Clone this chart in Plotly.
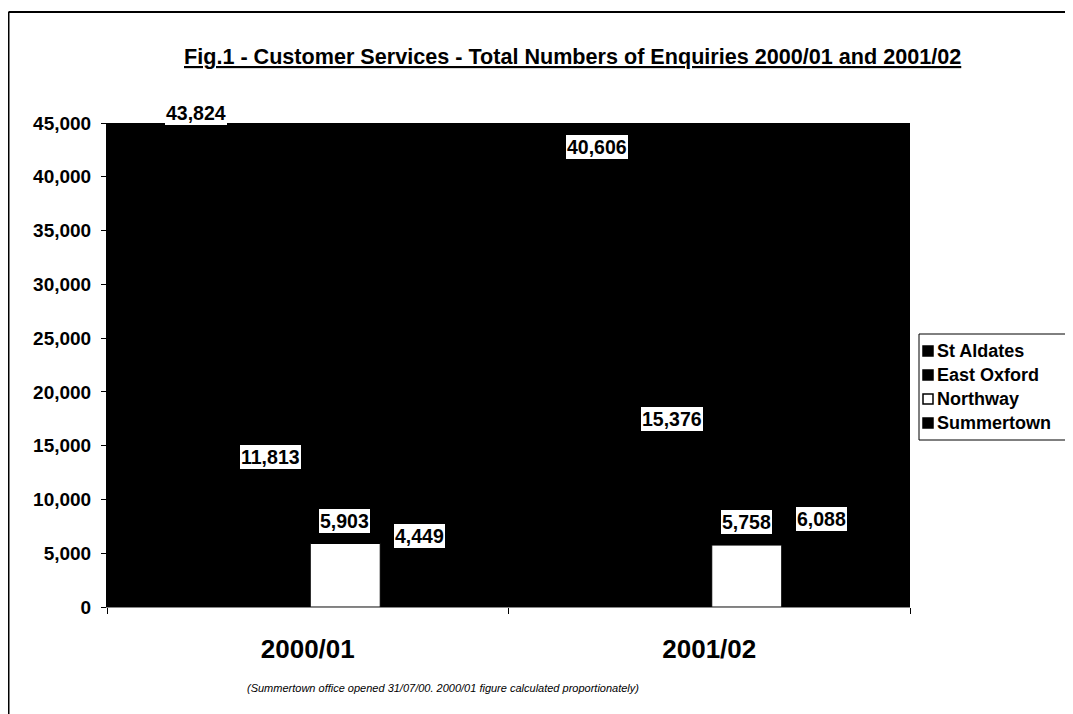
import plotly.graph_objects as go

years = ["2000/01", "2001/02"]
offices = ["St Aldates", "East Oxford", "Northway", "Summertown"]
st_aldates = [43824, 40606]
east_oxford = [11813, 15376]
northway = [5903, 5758]
summertown = [4449, 6088]
series = [st_aldates, east_oxford, northway, summertown]
bar_colors = ["#000000", "#000000", "#ffffff", "#000000"]
y_ticks = [0, 5000, 10000, 15000, 20000, 25000, 30000, 35000, 40000, 45000]

FONT = "Liberation Sans, Arial, sans-serif"

# the page body adds an 8px margin, so the figure is sized to fill the
# rest of the 1073x714 window; helpers below take window coordinates.
OFF = 8
W, H = 1073 - OFF, 714 - OFF
PL, PR, PT, PB = 107, 910, 123, 607          # plot area in window pixels
ML, MR = PL - OFF, W - (PR - OFF)
MT, MB = PT - OFF, H - (PB - OFF)
PW, PH = W - ML - MR, H - MT - MB


def px(x):
    return (x - OFF - ML) / PW


def py(y):
    return (H - MB - (y - OFF)) / PH


fig = go.Figure()
for name, vals, col in zip(offices, series, bar_colors):
    fig.add_trace(go.Bar(
        x=years, y=vals, name=name,
        marker=dict(color=col, line=dict(color="#000000", width=1)),
        hoverinfo="skip", showlegend=False,
    ))

# value labels (white boxes above each bar)
shifts = [-112, -37, 37, 112]
for si, vals in enumerate(series):
    for ci, v in enumerate(vals):
        fig.add_annotation(
            x=years[ci], y=v, xref="x", yref="y",
            text="<b>{:,}</b>".format(v), showarrow=False,
            xshift=shifts[si], yshift=23, yanchor="middle",
            font=dict(family=FONT, size=19.5, color="#000000"),
            bgcolor="#ffffff", borderwidth=0, borderpad=1,
        )

# title
fig.add_annotation(
    xref="paper", yref="paper", x=px(572), y=py(57),
    text="<b><u>Fig.1 - Customer Services - Total Numbers of Enquiries 2000/01 and 2001/02</u></b>",
    showarrow=False, xanchor="center", yanchor="middle",
    font=dict(family=FONT, size=21.6, color="#000000"),
)
# footnote
fig.add_annotation(
    xref="paper", yref="paper", x=px(443), y=py(688),
    text="<i>(Summertown office opened 31/07/00. 2000/01 figure calculated proportionately)</i>",
    showarrow=False, xanchor="center", yanchor="middle",
    font=dict(family=FONT, size=11, color="#000000"),
)

# outer frame lines
fig.add_shape(type="line", xref="paper", yref="paper",
              x0=px(8.5), x1=px(1090), y0=py(12), y1=py(12),
              line=dict(color="#000000", width=2))
fig.add_shape(type="line", xref="paper", yref="paper",
              x0=px(8.5), x1=px(8.5), y0=py(12), y1=py(730),
              line=dict(color="#000000", width=2))

# legend box
fig.add_shape(type="rect", xref="paper", yref="paper",
              x0=px(919), x1=px(1072), y0=py(334), y1=py(440),
              line=dict(color="#000000", width=1), fillcolor="#ffffff")
legend_y = [351, 375, 399, 423]
for name, col, ly in zip(offices, bar_colors, legend_y):
    fig.add_shape(type="rect", xref="paper", yref="paper",
                  x0=px(923), x1=px(933), y0=py(ly - 5), y1=py(ly + 5),
                  line=dict(color="#000000", width=1.5), fillcolor=col)
    fig.add_annotation(
        xref="paper", yref="paper", x=px(935), y=py(ly),
        text="<b>" + name + "</b>", showarrow=False,
        xanchor="left", yanchor="middle",
        font=dict(family=FONT, size=18, color="#000000"),
    )

fig.update_layout(
    width=W, height=H,
    margin=dict(l=ML, r=MR, t=MT, b=MB),
    paper_bgcolor="#ffffff", plot_bgcolor="#000000",
    barmode="group", bargap=0.253, bargroupgap=0.067,
    font=dict(family=FONT, color="#000000"),
    showlegend=False,
    xaxis=dict(
        type="category", tickson="boundaries", ticks="outside", ticklen=6,
        tickcolor="#000000", showline=True, linecolor="#888888",
        showgrid=False, zeroline=False, ticklabelstandoff=19,
        tickfont=dict(family=FONT, size=26, color="#000000", weight="bold"),
    ),
    yaxis=dict(
        range=[0, 45000], tickvals=y_ticks, tickformat=",", ticks="outside",
        ticklen=5, tickcolor="#000000", showline=True, linecolor="#000000",
        showgrid=False, zeroline=False, ticklabelstandoff=6,
        tickfont=dict(family=FONT, size=19, color="#000000", weight="bold"),
    ),
)

fig.write_html("out.html")
